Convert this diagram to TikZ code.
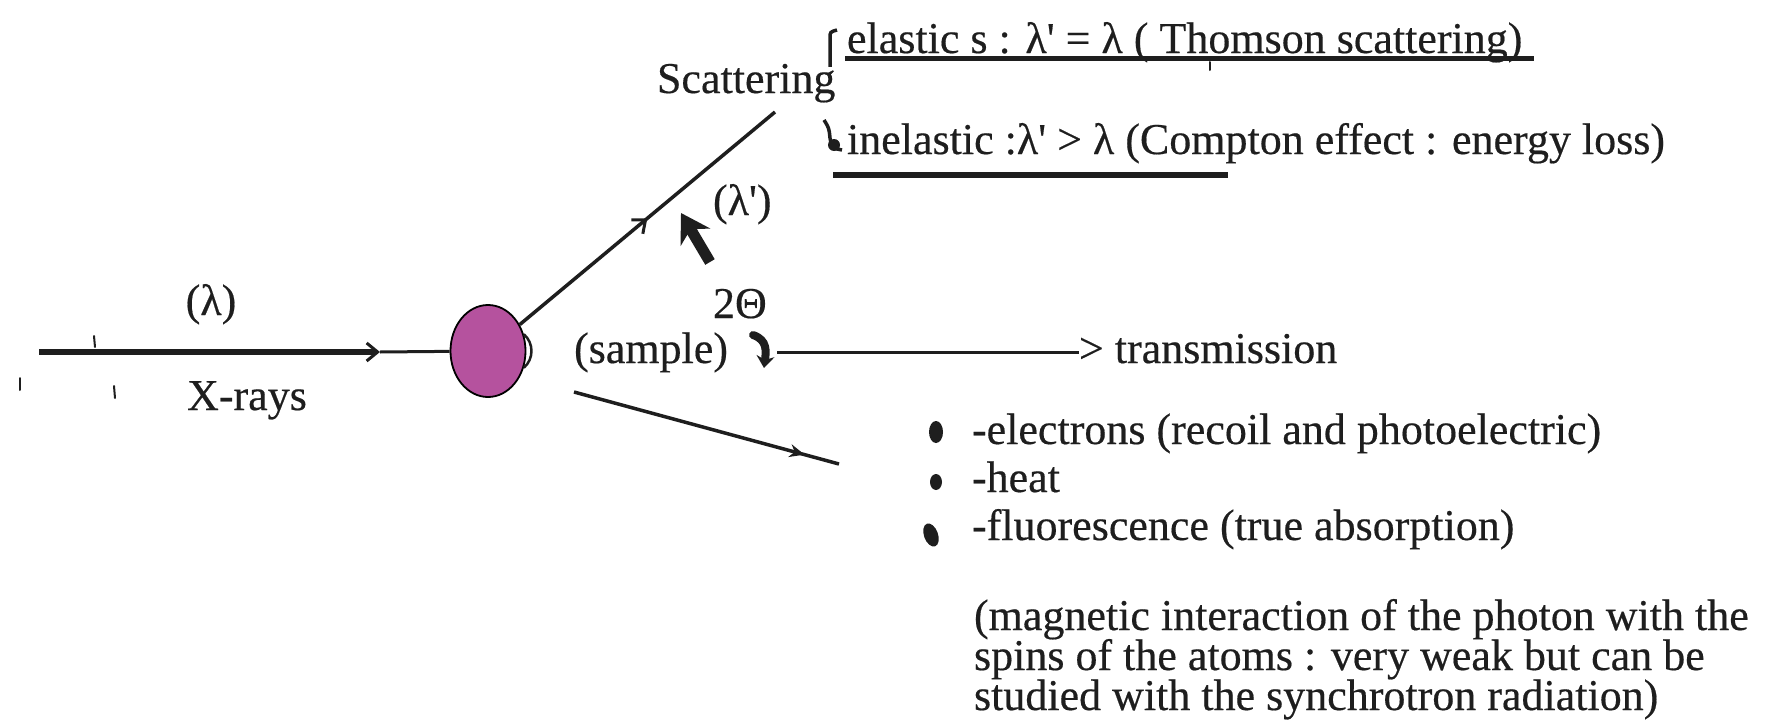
\documentclass[tikz,border=0pt]{standalone}
\usepackage{fontspec}
\setmainfont{Liberation Serif}[UprightFeatures={FakeBold=0.4}]
\usetikzlibrary{arrows.meta,shapes.geometric,decorations.markings}
\definecolor{ink}{HTML}{1E1E1E}
\definecolor{samplefill}{HTML}{B5529E}
\begin{document}
\begin{tikzpicture}[x=1pt,y=-1pt,
  lbl/.style={inner sep=0pt, outer sep=0pt, text=ink, font=\fontsize{44}{40}\selectfont},
  paraline/.style={lbl, anchor=base west, text height=29pt, text depth=9pt},
  ray/.style={draw=ink, line width=3.5pt},
  beam/.style={draw=ink, line width=5.5pt},
  midarrow/.style={postaction={decorate}, decoration={markings, mark=at position #1 with {\arrow{Straight Barb[length=11pt,width=18pt,line width=3pt]}}}},
  midstealth/.style={postaction={decorate}, decoration={markings, mark=at position #1 with {\arrow{Stealth[length=15pt,width=13pt]}}}},
  speck/.style={draw=ink, line width=2pt, line cap=round},
]
\useasboundingbox (0,0) rectangle (1766,725);

% texts
\node[lbl, anchor=base west] (elastic) at (847,53) {elastic s : λ\textquotesingle{} = λ ( Thomson scattering)};
\node[lbl, anchor=base west] (scat) at (657,93) {Scattering};
\node[lbl, anchor=base west] (inelastic) at (847,154) {inelastic :λ\textquotesingle{} > λ (Compton effect : energy loss)};
\node[lbl, anchor=base west] (lamp) at (713,215) {(λ\textquotesingle)};
\node[lbl, anchor=base west] (theta) at (713,318) {2Θ};
\node[lbl, anchor=base east] (samplelbl) at (728,363) {(sample)};
\node[lbl, anchor=base west] (trans) at (1079,363) {> transmission};
\node[lbl, anchor=base] (lam) at (211,315) {(λ)};
\node[lbl, anchor=base] (xrays) at (247,410) {X-rays};
\node[paraline] (el) at (972,444) {-electrons (recoil and photoelectric)};
\node[paraline] (heat) at (972,492) {-heat};
\node[paraline] (fluo) at (972,540) {-fluorescence (true absorption)};
\node[paraline] (mag1) at (974,630) {(magnetic interaction of the photon with the};
\node[paraline] (mag2) at (974,670) {spins of the atoms : very weak but can be};
\node[paraline] (mag3) at (974,710) {studied with the synchrotron radiation)};

% sample
\node[ellipse, draw=black, line width=1.8pt, fill=samplefill, minimum width=75pt, minimum height=92pt, inner sep=0pt] (sample) at (488,351) {};
\draw[ink, line width=2.5pt] (sample.25) .. controls (534,343) and (534,359) .. (sample.-25);

% coordinates
\coordinate (src) at (39,352);
\coordinate (barb) at (380,352);
\coordinate (scatend) at (775,112);
\coordinate (tstart) at (777,352);
\coordinate (lowstart) at (574,392);
\coordinate (lowend) at (839,464);

% rays
\draw[beam, -{Straight Barb[length=11pt,width=18pt,line width=3pt]}] (src) -- (barb);
\draw[ray, line width=3pt] (barb) -- (sample);
\draw[ray, midarrow=0.5] (sample) -- (scatend);
\draw[ray, line width=3pt] (tstart) -- (tstart -| trans.west);
\draw[ray, midstealth=0.87] (lowstart) -- (lowend);

% lambda' arrow and curly arrow
\draw[ink, line width=11pt, -{Stealth[length=28pt,width=34pt]}] (710,262) -- (681,213);
\draw[ink, line width=8pt, line cap=round, -{Stealth[length=12pt,width=18pt]}] (753,335) .. controls (768,340) and (766,352) .. (764,368);

% underlines and hooks
\draw[ink, line width=5pt] (845,59) -- (1534,59);
\draw[ink, line width=6pt] (833,175) -- (1228,175);
\draw[ink, line width=3.5pt] (830,67) -- (830,38) .. controls (830,32) .. (837,30);
\draw[ink, line width=3.5pt] (824,120) .. controls (829,128) .. (830,138) .. controls (832,148) .. (842,150);
\fill[ink] (834,145) ellipse (6pt and 6pt);

% bullets
\fill[ink] (936,432) ellipse (7pt and 11pt);
\fill[ink] (936,482) ellipse (6pt and 8pt);
\fill[ink, rotate around={20:(931,535)}] (931,535) ellipse (7pt and 12pt);

% scan specks
\draw[speck] (94,336) -- (95,347);
\draw[speck] (20,378) -- (20,390);
\draw[speck] (114,386) -- (115,398);
\draw[speck] (1210,62) -- (1210,70);
\end{tikzpicture}
\end{document}
